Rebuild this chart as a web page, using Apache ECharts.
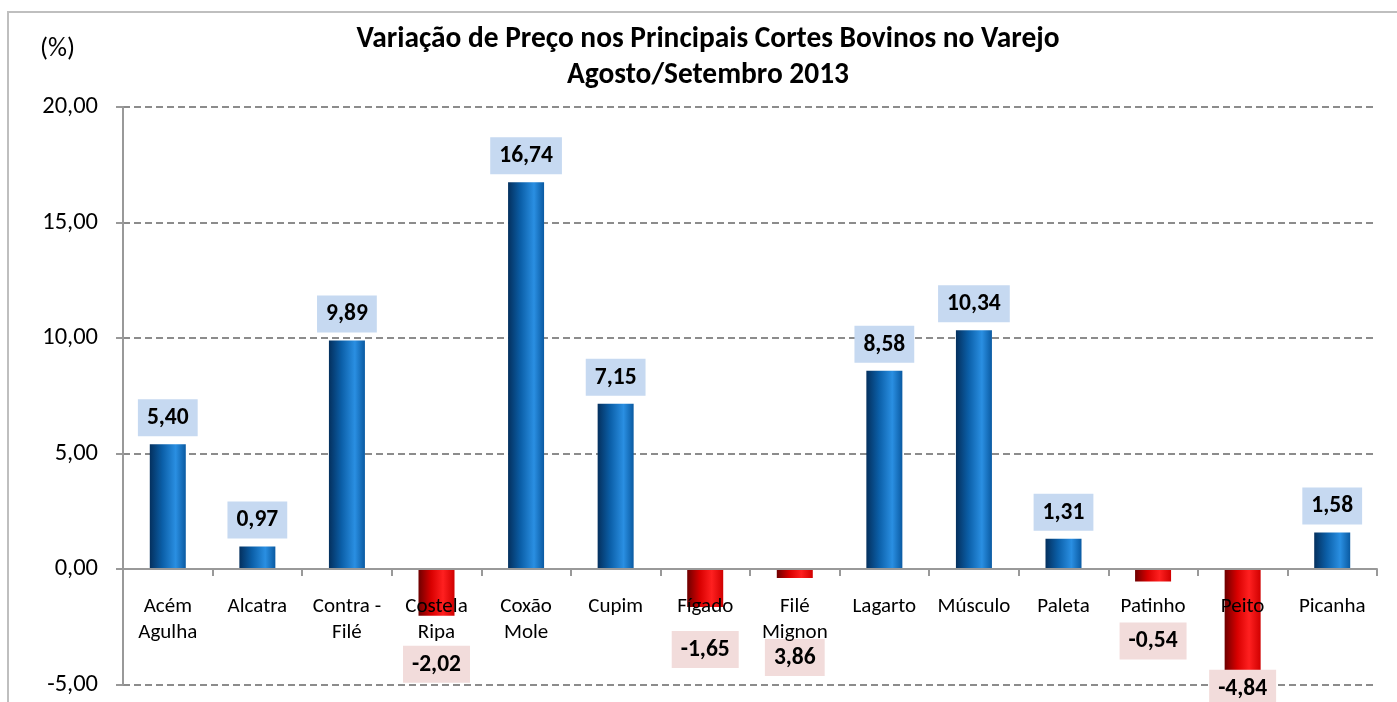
<!DOCTYPE html>
<html><head><meta charset="utf-8">
<script src="https://cdn.jsdelivr.net/npm/echarts@6/dist/echarts.min.js"></script>
<style>html,body{margin:0;padding:0;background:#fff}#c{width:1397px;height:702px}</style>
</head><body><div id="c"></div>
<script>
const categories = ['Acém\nAgulha','Alcatra','Contra -\nFilé','Costela\nRipa','Coxão\nMole','Cupim','Fígado','Filé\nMignon','Lagarto','Músculo','Paleta','Patinho','Peito','Picanha'];
const values = [5.40, 0.97, 9.89, -2.02, 16.74, 7.15, -1.65, -0.39, 8.58, 10.34, 1.31, -0.54, -4.84, 1.58];
const labelTexts = ['5,40','0,97','9,89','-2,02','16,74','7,15','-1,65','3,86','8,58','10,34','1,31','-0,54','-4,84','1,58'];
const yTicks = [-5, 0, 5, 10, 15, 20];
const titleLines = ['Variação de Preço nos Principais Cortes Bovinos no Varejo', 'Agosto/Setembro 2013'];

// layout tweaks for negative labels (manually placed in the original)
const negLabelDistance = {3: 30, 6: 24, 7: 61, 11: 41, 12: -11};

const FONT = 'Carlito, Lato, sans-serif';
const blueGrad = new echarts.graphic.LinearGradient(0,0,1,0,[
  {offset:0,color:'#04305e'},{offset:0.35,color:'#0b5fa8'},{offset:0.72,color:'#2a8fe2'},{offset:1,color:'#0a5aa2'}]);
const redGrad = new echarts.graphic.LinearGradient(0,0,1,0,[
  {offset:0,color:'#6e0000'},{offset:0.35,color:'#d80000'},{offset:0.68,color:'#ff2020'},{offset:1,color:'#d00000'}]);

const yMin = yTicks[0], yMax = yTicks[yTicks.length-1];
const gridTop = 107, gridBottom = 17.5, H = 702;
const plotH = H - gridTop - gridBottom;
const zeroOffset = plotH * (0 - yMin) / (yMax - yMin); // distance from grid bottom to the zero line

const data = values.map((v,i)=>{
  const neg = v < 0;
  return {
    value: v,
    itemStyle: {color: neg ? redGrad : blueGrad},
    label: {
      show: true,
      formatter: labelTexts[i],
      position: neg ? 'bottom' : 'top',
      distance: neg ? (negLabelDistance[i] ?? 20) : 8,
      backgroundColor: neg ? '#f2dcdb' : '#c6d9f1',
      padding: [7, 9, 6, 9],
      lineHeight: 24,
      color: '#000',
      fontFamily: FONT,
      fontWeight: 'bold',
      fontSize: 23.5
    }
  };
});

const chart = echarts.init(document.getElementById('c'));
chart.setOption({
  animation: false,
  backgroundColor: '#fff',
  title: {
    text: titleLines.join('\n'),
    left: 703, top: 17, textAlign: 'center',
    textStyle: {fontFamily: FONT, fontWeight: 'bold', fontSize: 29.4, lineHeight: 36, color: '#000'}
  },
  graphic: [
    {type:'rect', shape:{x:8,y:12,width:1420,height:720}, style:{fill:'none', stroke:'#bfbfbf', lineWidth:2}, silent:true, z:-1},
    {type:'text', left: 40, top: 36, style:{text:'(%)', fontFamily: FONT, fontSize: 26.5, fill:'#000'}}
  ],
  grid: {left: 123, right: 20, top: gridTop, bottom: gridBottom, containLabel: false, outerBoundsMode: 'none'},
  xAxis: {
    type: 'category',
    data: categories,
    position: 'bottom',
    offset: -zeroOffset,
    axisLine: {onZero: false, lineStyle: {color: '#999', width: 2}},
    axisTick: {show: true, length: 7, lineStyle: {color: '#999', width: 2}},
    axisLabel: {fontFamily: FONT, fontSize: 21, color: '#000', margin: 25, lineHeight: 26, interval: 0},
    z: 10
  },
  yAxis: {
    type: 'value',
    min: yMin, max: yMax, interval: 5,
    axisLine: {show: true, lineStyle: {color: '#999', width: 2}},
    axisTick: {show: true, length: 7, lineStyle: {color: '#999', width: 2}},
    axisLabel: {fontFamily: FONT, fontSize: 24.5, color: '#000', margin: 25,
      formatter: v => v.toFixed(2).replace('.', ',')},
    splitLine: {show: true, lineStyle: {color: '#8c8c8c', width: 2, type: [7, 4]}}
  },
  series: [{
    type: 'bar',
    data: data,
    barWidth: 36,
    z: 3
  }]
});
</script></body></html>
